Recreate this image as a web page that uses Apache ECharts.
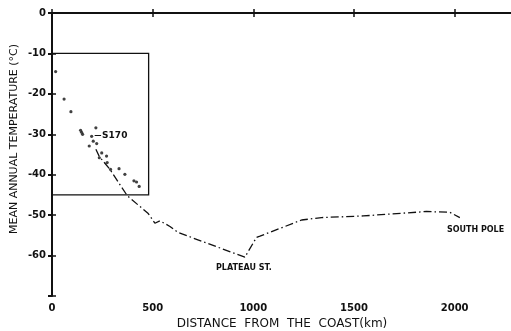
<!DOCTYPE html>
<html>
<head>
<meta charset="utf-8">
<script src="https://cdn.jsdelivr.net/npm/echarts@6/dist/echarts.min.js"></script>
<style>
  html, body { margin: 0; padding: 0; background: #fff; }
  #chart { width: 511px; height: 331px; }
</style>
</head>
<body>
<div id="chart"></div>
<script>
// station observations near the coast (km, degC)
const stationDist = [18, 60, 94, 142, 147, 152, 185, 197, 205, 218, 222, 235, 247, 271, 274, 291, 333, 362, 407, 420, 433]
const stationTemp = [-14.5, -21.3, -24.4, -29, -29.5, -30, -32.9, -30.5, -31.7, -28.4, -32.3, -35.8, -34.6, -35.4, -37, -38.7, -38.5, -39.9, -41.5, -41.8, -42.9]

// traverse profile inland
const traverseDist = [218, 235, 288, 374, 478, 511, 536, 586, 627, 958, 1016, 1033, 1240, 1339, 1546, 1860, 1976, 2026]
const traverseTemp = [-33.7, -35.5, -38.7, -45.2, -49.6, -52, -51.4, -52.8, -54.3, -60.4, -55.5, -55.2, -51.2, -50.6, -50.2, -49.1, -49.3, -50.6]

const xTicks = [0, 500, 1000, 1500, 2000]
const yTicks = [0, -10, -20, -30, -40, -50, -60]

// inset box corners (km, degC)
const insetBox = [[0, -10], [480, -45]]

const font = '"DejaVu Sans", sans-serif'
const black = '#111'

const chart = echarts.init(document.getElementById('chart'))

const axisBase = {
  type: 'value',
  splitLine: { show: false },
  axisLine: { show: true, lineStyle: { color: black, width: 2 } },
  axisTick: { show: true, inside: true, length: 4, lineStyle: { color: black, width: 1.5 } }
}

chart.setOption({
  animation: false,
  grid: { left: 52, top: 13, right: -1, bottom: 35, containLabel: false, outerBoundsMode: 'none' },
  xAxis: [
    {
      ...axisBase,
      position: 'bottom',
      min: 0, max: 2285, interval: 500,
      axisLabel: {
        color: black, fontFamily: font, fontSize: 10, fontWeight: 'bold', margin: 7,
        formatter: v => (xTicks.includes(v) ? String(v) : '')
      },
      name: 'DISTANCE  FROM  THE  COAST(km)',
      nameLocation: 'middle',
      nameGap: 21,
      nameTextStyle: { color: black, fontFamily: font, fontSize: 12 }
    },
    {
      ...axisBase,
      position: 'top',
      min: 0, max: 2285, interval: 500,
      axisLabel: { show: false }
    }
  ],
  yAxis: [
    {
      ...axisBase,
      position: 'left',
      min: -70, max: 0, interval: 10,
      axisLabel: {
        color: black, fontFamily: font, fontSize: 10, fontWeight: 'bold', margin: 6,
        formatter: v => (yTicks.includes(v) ? String(v) : '')
      }
    },
    {
      ...axisBase,
      position: 'right',
      min: -70, max: 0, interval: 10,
      axisLine: { show: false },
      axisTick: { show: true, inside: true, length: 4, lineStyle: { color: black, width: 2 } },
      axisLabel: { show: false }
    }
  ],
  graphic: [{
    type: 'text',
    x: 14, y: 139,
    rotation: Math.PI / 2,
    style: {
      text: 'MEAN ANNUAL TEMPERATURE (°C)',
      fill: black,
      font: '11px ' + font,
      align: 'center',
      verticalAlign: 'middle'
    }
  }],
  series: [
    {
      type: 'line',
      data: traverseDist.map((d, i) => [d, traverseTemp[i]]),
      showSymbol: false,
      lineStyle: { color: black, width: 1.3, type: [8, 3, 1.5, 3] },
      markPoint: {
        symbolSize: 0,
        label: { color: black, fontFamily: font, fontSize: 8, fontWeight: 'bold' },
        data: [
          { coord: [958, -60.4], label: { position: 'bottom', distance: 7, formatter: 'PLATEAU ST.', offset: [-1, 0] } },
          { coord: [1960, -51.8], label: { position: 'bottom', distance: 4, formatter: 'SOUTH POLE', offset: [29, 0] } }
        ]
      }
    },
    {
      type: 'scatter',
      data: stationDist.map((d, i) => [d, stationTemp[i]]),
      symbolSize: 3.2,
      itemStyle: { color: black },
      markArea: {
        silent: true,
        itemStyle: { color: 'rgba(0,0,0,0)', borderColor: black, borderWidth: 1.3 },
        data: [[{ coord: insetBox[0] }, { coord: insetBox[1] }]]
      },
      markLine: {
        silent: true,
        symbol: 'none',
        lineStyle: { color: black, type: 'solid', width: 1 },
        label: { show: false },
        data: [[{ coord: [212, -30.3] }, { coord: [244, -30.3] }]]
      },
      markPoint: {
        symbolSize: 0,
        label: {
          color: black, fontFamily: font, fontSize: 9, fontWeight: 'bold',
          position: 'right', distance: 1, formatter: 'S170'
        },
        data: [{ coord: [244, -30.3] }]
      }
    }
  ]
})
</script>
</body>
</html>
